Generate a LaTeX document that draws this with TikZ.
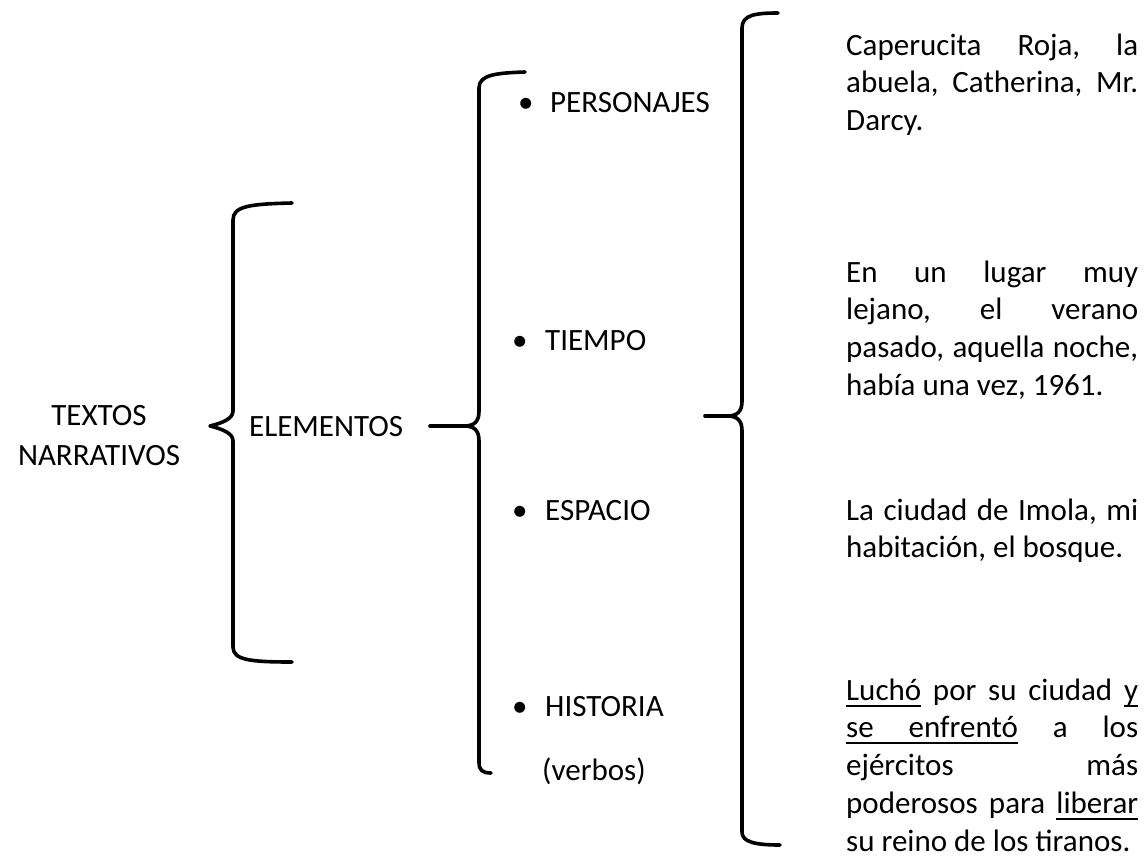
\documentclass[tikz,border=0pt]{standalone}
\usepackage{fontspec}
\setmainfont{Carlito}
\newlength{\colw}
\setlength{\colw}{292pt}
\newcommand{\jl}[1]{\makebox[\colw][s]{#1}}
\newcommand{\colpar}[1]{\parbox[t]{\colw}{\frenchspacing\setlength{\baselineskip}{37.8pt}#1}}
\newcommand{\myul}[1]{\setbox0\hbox{#1}\rlap{\vrule height -4.5pt depth 6.5pt width \wd0}\box0\relax}
\newcommand{\myulsp}{\leaders\hrule height -4.5pt depth 6.5pt\hskip\fontdimen2\font plus \fontdimen3\font\relax}
\tikzset{
  bracestroke/.style={line width=3.6pt, line cap=round, line join=round},
  lbl/.style={inner sep=0pt, anchor=base west},
  item/.style={inner sep=0pt, anchor=base west},
  para/.style={inner sep=0pt, anchor=base west},
}
\begin{document}
\begin{tikzpicture}[x=1pt, y=-1pt]
\fontsize{31}{40.5}\selectfont\frenchspacing
\useasboundingbox (0,0) rectangle (1146,857);

% left title
\node[inner sep=0pt, anchor=base] (title) at (99,425)
  {\begin{tabular}[t]{@{}c@{}}TEXTOS\\NARRATIVOS\end{tabular}};

% brace 1
\coordinate (b1tip) at (210,426);
\draw[bracestroke] (292,203) .. controls (250,204) and (233,206) .. (233,220)
  -- (233,411) .. controls (233,419) and (222,423) .. (b1tip)
  .. controls (222,429) and (233,433) .. (233,441)
  -- (233,647) .. controls (233,660) and (250,662) .. (292,662);

\node[lbl] (elem) at (249,436) {ELEMENTOS};

% brace 2
\coordinate (b2tip) at (430,426);
\coordinate (b2join) at (464,426);
\draw[bracestroke] (525,72) .. controls (495,73) and (479,75) .. (479,88)
  -- (479,411) .. controls (479,421) and (475,426) .. (b2join);
\draw[bracestroke] (b2join) .. controls (475,426) and (479,431) .. (479,441)
  -- (479,762) .. controls (479,770) and (482,773) .. (491,773);
\draw[bracestroke] (b2tip) -- (b2join);

% items
\node[item] (per) at (518,112) {\makebox[32pt][l]{•}PERSONAJES};
\node[item] (tie) at (512,350) {\makebox[33pt][l]{•}TIEMPO};
\node[item] (esp) at (512,520) {\makebox[33pt][l]{•}ESPACIO};
\node[item] (his) at (512,716) {\makebox[33pt][l]{•}HISTORIA};
\node[item] (verb) at (542,780) {(verbos)};

% brace 3
\coordinate (b3tip) at (705,416);
\coordinate (b3join) at (727,416);
\draw[bracestroke] (778,13) .. controls (755,13) and (742,15) .. (742,28)
  -- (742,401) .. controls (742,411) and (738,416) .. (b3join);
\draw[bracestroke] (b3join) .. controls (738,416) and (742,421) .. (742,431)
  -- (742,832) .. controls (742,842) and (755,845) .. (780,845);
\draw[bracestroke] (b3tip) -- (b3join);

% right column
\node[para] (tper) at (846,55) {\colpar{%
  \jl{Caperucita Roja, la}\\
  \jl{abuela, Catherina, Mr.}\\
  Darcy.}};
\node[para] (ttie) at (846,282) {\colpar{%
  \jl{En un lugar muy}\\
  \jl{lejano, el verano}\\
  \jl{pasado, aquella noche,}\\
  había una vez, 1961.}};
\node[para] (tesp) at (846,520) {\colpar{%
  \jl{La ciudad de Imola, mi}\\
  habitación, el bosque.}};
\node[para] (this) at (846,700) {\colpar{%
  \jl{\myul{Luchó} por su ciudad \myul{y}}\\
  \jl{\myul{se}\myulsp\myul{enfrentó} a los}\\
  \jl{ejércitos más}\\
  \jl{poderosos para \myul{liberar}}\\
  su reino de los tiranos.}};
\end{tikzpicture}
\end{document}
